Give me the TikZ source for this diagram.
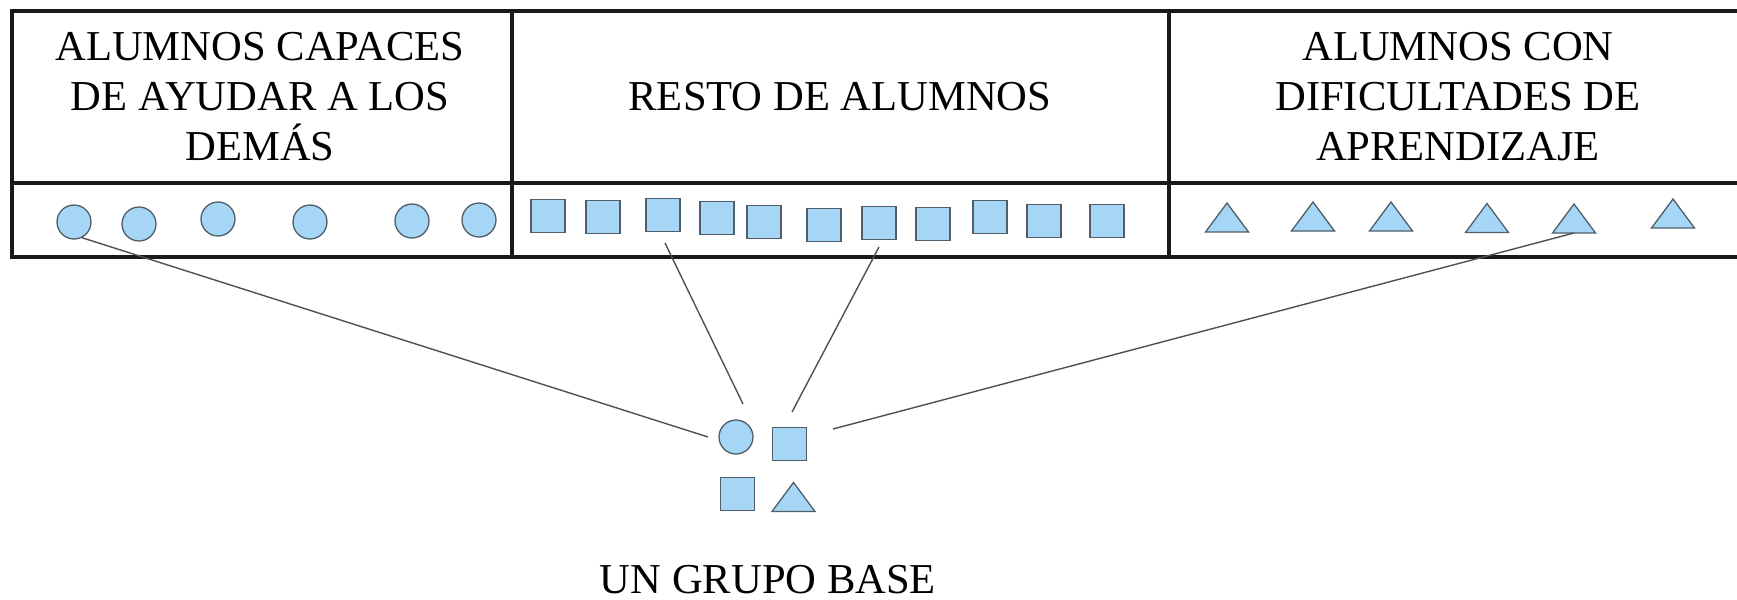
\documentclass[tikz,border=0pt]{standalone}
\usepackage{fontspec}
\setmainfont{Liberation Serif}
\definecolor{shapefill}{HTML}{A6D6F6}
\definecolor{shapeline}{HTML}{4F5E68}
\definecolor{linkcol}{HTML}{505050}
\begin{document}
\begin{tikzpicture}[x=0.5pt,y=-0.5pt,
  stu/.style={fill=shapefill,draw=shapeline,line width=0.65pt},
  circ/.style={stu,circle,inner sep=0pt,minimum size=17pt},
  sq/.style={stu,rectangle,inner sep=0pt,minimum width=17pt,minimum height=16.5pt},
  gridline/.style={line width=1.6pt,draw=black!90},
  link/.style={draw=linkcol,line width=0.7pt},
  lbl/.style={anchor=base,inner sep=0pt,font=\fontsize{21.3pt}{25pt}\selectfont},
  tri/.pic={\path[stu] (-21.5,14.5) -- (21.5,14.5) -- (0,-14.5) -- cycle;
            \coordinate (-base) at (0,14.5);}
]
\useasboundingbox (0,0) rectangle (1737,600);

% table
\draw[gridline] (1737,11) -- (12,11) -- (12,257) -- (1737,257);
\draw[gridline] (12,183) -- (1737,183);
\draw[gridline] (512,11) -- (512,257);
\draw[gridline] (1169,11) -- (1169,257);

% headings
\node[lbl] (h1a) at (260,60)  {ALUMNOS CAPACES};
\node[lbl] (h1b) at (260,110) {DE AYUDAR A LOS};
\node[lbl] (h1c) at (260,160) {DEMÁS};
\node[lbl] (h2)  at (840,110) {RESTO DE ALUMNOS};
\node[lbl] (h3a) at (1458,60)  {ALUMNOS CON};
\node[lbl] (h3b) at (1458,110) {DIFICULTADES DE};
\node[lbl] (h3c) at (1458,160) {APRENDIZAJE};

% circles
\node[circ] (c1) at (74,222) {};
\node[circ] (c2) at (139,224) {};
\node[circ] (c3) at (218,219) {};
\node[circ] (c4) at (310,222) {};
\node[circ] (c5) at (412,221) {};
\node[circ] (c6) at (479,220) {};

% squares
\node[sq] (s1)  at (548,216) {};
\node[sq] (s2)  at (603,217) {};
\node[sq] (s3)  at (663,215) {};
\node[sq] (s4)  at (717,218) {};
\node[sq] (s5)  at (764,222) {};
\node[sq] (s6)  at (824,225) {};
\node[sq] (s7)  at (879,223) {};
\node[sq] (s8)  at (933,224) {};
\node[sq] (s9)  at (990,217) {};
\node[sq] (s10) at (1044,221) {};
\node[sq] (s11) at (1107,221) {};

% triangles
\pic (t1) at (1227,217.5) {tri};
\pic (t2) at (1313,216.5) {tri};
\pic (t3) at (1391,216.5) {tri};
\pic (t4) at (1487,218) {tri};
\pic (t5) at (1574,218.5) {tri};
\pic (t6) at (1673,213.5) {tri};

% base group
\node[circ] (g1) at (736,437) {};
\node[sq] (g2) at (789.5,444) {};
\node[sq] (g3) at (737.5,494) {};
\pic (g4) at (793.5,497) {tri};

\node[lbl] (gl) at (768,593) {UN GRUPO BASE};

% connectors
\coordinate (e1) at (708,437);
\coordinate (a2) at (665,243);
\coordinate (e2) at (743,404);
\coordinate (a3) at (879,247);
\coordinate (e3) at (792,412);
\coordinate (e4) at (833,429);
\draw[link] (c1.-63) -- (e1);
\draw[link] (a2) -- (e2);
\draw[link] (a3) -- (e3);
\draw[link] (t5-base) -- (e4);
\end{tikzpicture}
\end{document}
